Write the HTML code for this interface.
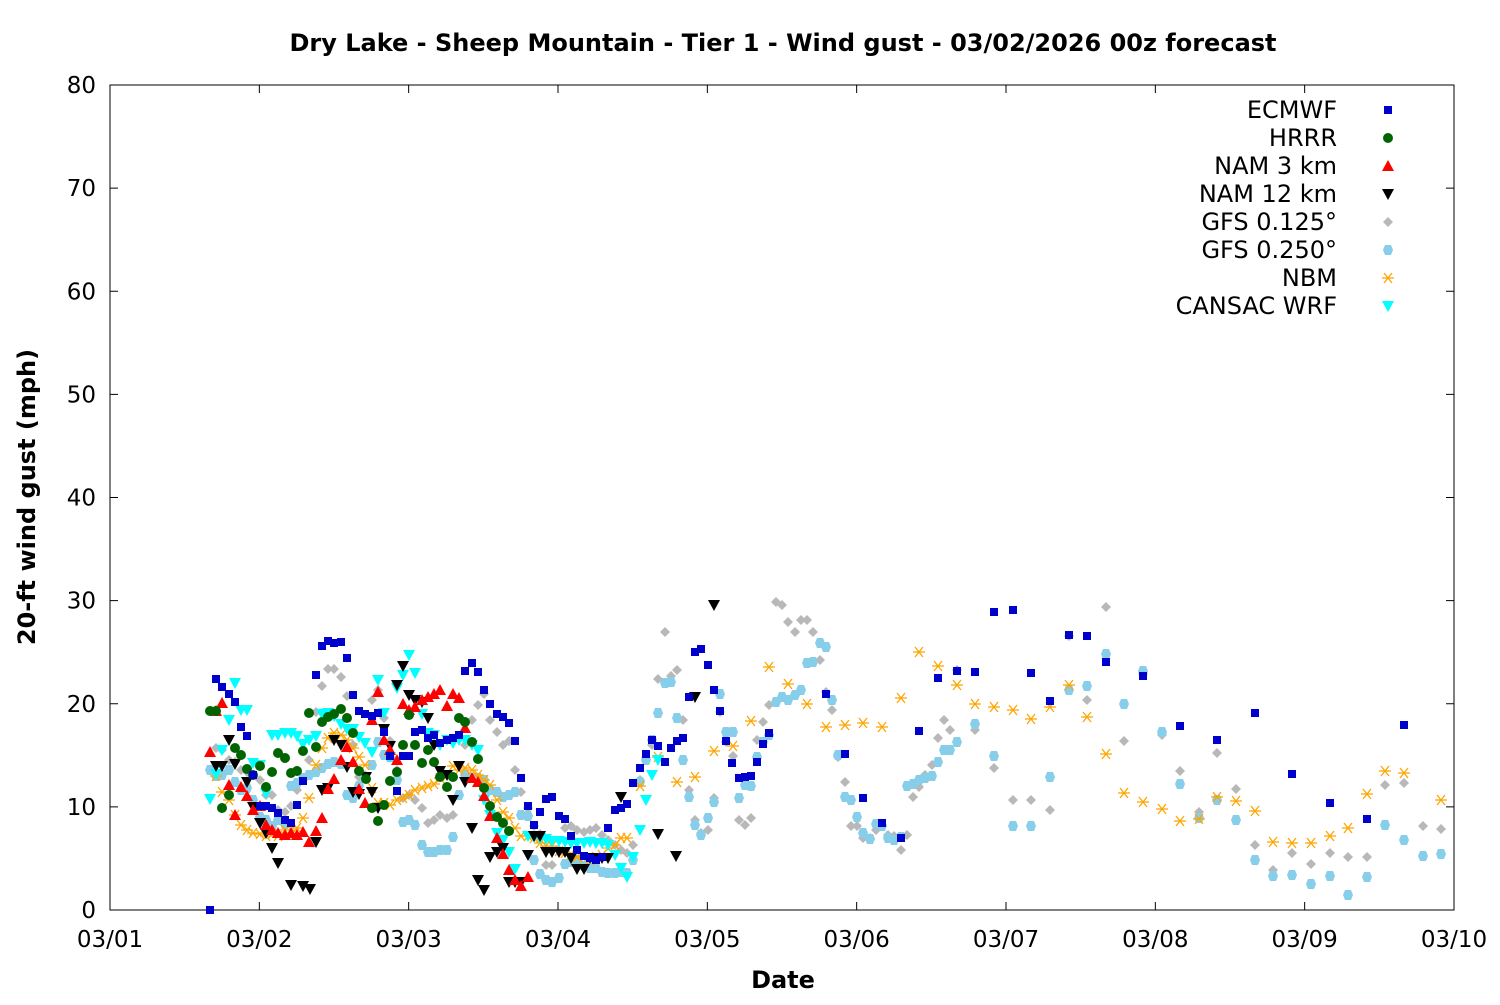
<!DOCTYPE html>
<html><head><meta charset="utf-8"><style>
body{margin:0;background:#fff}
svg text{font-family:"DejaVu Sans","Liberation Sans",sans-serif}
</style></head><body>
<svg id="s" width="1500" height="1000" xmlns="http://www.w3.org/2000/svg">
<rect width="1500" height="1000" fill="#fff"/>
<text x="783" y="51" text-anchor="middle" font-size="24" font-weight="bold">Dry Lake - Sheep Mountain - Tier 1 - Wind gust - 03/02/2026 00z forecast</text>
<rect x="110" y="85" width="1344" height="825" fill="none" stroke="#000" stroke-width="1"/>
<g id="ax" font-size="23"></g>
<text x="783" y="988" text-anchor="middle" font-size="24" font-weight="bold">Date</text>
<text transform="translate(35,497) rotate(-90)" text-anchor="middle" font-size="24" font-weight="bold">20-ft wind gust (mph)</text>
<g id="lg" font-size="24"></g>
<g id="pts"></g>
</svg>
<script>
const NS="http://www.w3.org/2000/svg";
function el(p,t,a,txt){const e=document.createElementNS(NS,t);for(const k in a)e.setAttribute(k,a[k]);if(txt!==undefined)e.textContent=txt;p.appendChild(e);return e;}
const ax=document.getElementById('ax');
for(let i=0;i<=8;i++){const y=910-i*103.125;
el(ax,'line',{x1:110,x2:118,y1:y,y2:y,stroke:'#000'});el(ax,'line',{x1:1446,x2:1454,y1:y,y2:y,stroke:'#000'});
el(ax,'text',{x:96,y:y+8,'text-anchor':'end'},String(i*10));}
const days=['03/01','03/02','03/03','03/04','03/05','03/06','03/07','03/08','03/09','03/10'];
for(let i=0;i<=9;i++){const x=110+i*149.333;
el(ax,'line',{x1:x,x2:x,y1:910,y2:902,stroke:'#000'});el(ax,'line',{x1:x,x2:x,y1:85,y2:93,stroke:'#000'});
el(ax,'text',{x:x,y:947,'text-anchor':'middle'},days[i]);}
function mk(g,type,c,x,y){
 if(type=='sq')el(g,'rect',{x:x-4,y:y-4,width:8,height:8,fill:c});
 else if(type=='ci')el(g,'circle',{cx:x,cy:y,r:5,fill:c});
 else if(type=='up')el(g,'polygon',{points:`${x},${y-6} ${x+6},${y+5} ${x-6},${y+5}`,fill:c});
 else if(type=='dn')el(g,'polygon',{points:`${x-6},${y-5} ${x+6},${y-5} ${x},${y+6}`,fill:c});
 else if(type=='di')el(g,'polygon',{points:`${x},${y-5} ${x+5},${y} ${x},${y+5} ${x-5},${y}`,fill:c});
 else if(type=='hx')el(g,'polygon',{points:`${x-3},${y-5} ${x+3},${y-5} ${x+5},${y} ${x+3},${y+5} ${x-3},${y+5} ${x-5},${y}`,fill:c});
 else if(type=='as'){el(g,'path',{d:`M${x-6} ${y}H${x+6}M${x-4} ${y-5}L${x+4} ${y+5}M${x-4} ${y+5}L${x+4} ${y-5}`,stroke:c,'stroke-width':1.3,fill:'none'});}
}
const S=[
['GFS 0.125°','di','#b8b8b8',[210,770,216,748,222,750,229,760,235,762,241,770,247,772,253,775,260,780,266,795,272,795,278,810,285,812,291,806,297,790,303,780,309,760,316,712,322,686,328,669,334,669,341,677,347,696,353,745,359,777,365,775,372,700,378,690,384,718,390,741,397,770,403,798,409,795,415,800,422,808,428,823,434,820,440,815,447,818,453,815,459,795,465,745,472,720,478,705,484,694,490,720,497,732,503,745,509,741,515,770,521,792,528,808,534,826,540,834,546,865,552,865,559,850,565,828,571,826,577,830,584,832,590,830,596,828,602,835,608,840,615,845,621,850,627,853,633,845,640,780,646,758,652,745,658,679,665,632,671,676,677,670,683,720,689,790,695,820,701,833,708,830,714,798,720,712,726,742,733,756,739,820,745,825,751,818,757,740,763,722,769,705,776,602,782,605,788,622,795,632,801,620,807,620,813,632,820,660,826,692,832,710,838,757,845,782,851,826,857,826,863,838,870,838,876,830,882,825,888,835,894,836,901,850,907,835,913,797,919,787,925,775,932,765,938,738,944,720,950,730,957,670,975,730,994,768,1013,800,1031,800,1050,810,1069,636,1087,700,1106,607,1124,741,1143,674,1162,735,1180,771,1199,812,1217,753,1236,789,1255,845,1273,870,1292,853,1311,864,1330,853,1348,857,1367,857,1385,785,1404,783,1423,826,1441,829]],
['GFS 0.250°','hx','#87ceeb',[210,770,216,776,222,775,229,770,235,782,241,790,247,788,253,800,260,817,266,820,272,826,278,820,285,824,291,786,297,783,303,778,309,775,316,772,322,768,328,764,334,762,341,764,347,795,353,798,359,786,365,777,372,765,378,742,384,755,390,757,397,780,403,822,409,820,415,825,422,845,428,852,434,852,440,850,447,850,453,837,459,795,465,775,472,778,478,778,484,780,490,790,497,792,503,797,509,795,515,792,521,815,528,816,534,860,540,874,546,880,552,882,559,878,565,864,571,862,577,860,584,866,590,868,596,868,602,872,608,873,615,873,621,872,627,873,633,860,640,782,646,760,652,740,658,713,665,683,671,682,677,718,683,760,689,797,695,825,701,835,708,818,714,802,720,694,726,732,733,732,739,798,745,785,751,786,757,757,763,742,769,735,776,702,782,697,788,700,795,695,801,690,807,663,813,662,820,643,826,647,832,700,838,755,845,797,851,800,857,817,863,833,870,839,876,824,882,826,888,838,894,840,901,837,907,786,913,784,919,780,925,778,932,776,938,762,944,750,950,750,957,742,975,724,994,756,1013,826,1031,826,1050,777,1069,690,1087,686,1106,654,1124,704,1143,671,1162,732,1180,784,1199,818,1217,800,1236,820,1255,860,1273,876,1292,875,1311,884,1330,876,1348,895,1367,877,1385,825,1404,840,1423,856,1441,854]],
['NBM','as','#ffa500',[216,776,222,792,229,800,235,815,241,825,247,830,253,833,260,834,266,836,272,834,278,836,285,830,291,830,297,828,303,818,309,798,316,765,322,748,328,738,334,733,341,735,347,740,353,748,359,757,365,765,372,788,378,803,384,803,390,805,397,800,403,798,409,795,415,790,422,788,428,786,434,784,440,778,447,775,453,766,459,770,465,768,472,770,478,775,484,780,490,785,497,800,503,812,509,818,515,828,521,836,528,836,534,838,540,843,546,846,552,846,559,851,565,853,571,854,577,857,584,858,590,860,596,857,602,855,608,848,615,845,621,838,627,838,640,786,658,757,677,782,695,777,714,751,733,746,751,721,769,667,788,684,807,704,826,727,845,725,863,723,882,727,901,698,919,652,938,666,957,685,975,704,994,707,1013,710,1031,719,1050,707,1069,685,1087,717,1106,754,1124,793,1143,802,1162,809,1180,821,1199,819,1217,797,1236,801,1255,811,1273,842,1292,843,1311,843,1330,836,1348,828,1367,794,1385,771,1404,773,1441,800]],
['CANSAC WRF','dn','#00ffff',[210,799,216,774,222,750,229,720,235,683,241,710,247,710,253,763,260,765,266,793,272,735,278,735,285,733,291,733,297,736,303,744,309,740,316,736,322,714,328,713,334,716,341,724,347,729,353,729,359,737,365,743,372,752,378,680,384,713,390,757,397,688,403,675,409,655,415,673,422,714,428,733,434,735,440,745,447,740,453,743,459,740,465,740,472,745,478,750,484,800,490,815,497,833,503,840,509,852,515,869,521,883,528,836,534,837,540,838,546,839,552,841,559,841,565,842,571,843,577,843,584,843,590,842,596,843,602,843,608,845,615,855,621,868,627,877,633,857,640,830,646,800,652,775,658,760]],
['NAM 12 km','dn','#000000',[216,766,222,766,229,740,235,764,247,782,253,807,260,823,266,833,272,848,278,863,291,885,303,886,310,889,316,842,322,790,328,788,334,740,341,745,347,767,353,792,359,794,366,777,372,792,378,808,384,729,390,746,397,685,403,666,409,695,415,700,422,702,428,718,434,745,440,771,447,775,453,800,459,766,465,782,472,828,478,880,484,890,490,857,497,852,503,848,509,882,515,882,521,882,528,855,534,836,540,836,546,852,552,852,559,852,565,852,571,858,577,869,584,869,590,858,596,858,602,858,608,858,621,797,658,834,676,856,695,697,714,605]],
['NAM 3 km','up','#ff0000',[210,752,216,711,222,703,229,785,235,815,241,787,247,796,253,810,260,806,266,825,272,830,278,833,285,835,291,833,297,835,303,832,309,842,316,831,322,818,328,789,334,779,341,760,347,747,353,762,359,789,365,803,372,720,378,692,384,740,390,750,397,760,403,704,409,710,415,707,422,700,428,697,434,694,440,690,447,706,453,694,459,698,465,728,472,778,478,782,484,796,490,816,497,838,503,854,509,870,515,880,521,886,528,877]],
['HRRR','ci','#006400',[210,711,216,711,222,808,229,795,235,748,241,755,247,769,253,775,260,766,266,787,272,772,278,753,285,758,291,773,297,771,303,751,309,713,316,747,322,722,328,717,334,714,341,709,347,718,353,733,359,771,366,779,372,808,378,821,384,805,390,781,397,772,403,745,409,715,415,745,422,763,428,750,434,762,440,777,447,787,453,777,459,718,465,722,472,742,478,759,484,788,490,806,497,817,503,823,509,831]],
['ECMWF','sq','#0000cc',[210,910,216,679,222,687,229,694,235,702,241,727,247,736,253,775,260,806,266,806,272,808,278,813,285,820,291,823,297,805,303,781,316,675,322,646,328,641,334,643,341,642,347,658,353,695,359,711,365,714,372,716,378,713,384,732,390,756,397,791,403,756,409,756,415,732,422,730,428,738,434,735,440,743,447,740,453,738,459,735,465,671,472,663,478,672,484,690,490,704,497,714,503,717,509,723,515,741,521,778,528,806,534,825,540,812,546,799,552,797,559,816,565,819,571,836,577,850,584,856,590,858,596,860,602,857,608,828,615,810,621,808,627,804,633,783,640,768,646,754,652,740,658,746,665,762,671,748,677,741,683,738,689,697,695,652,701,649,708,665,714,690,720,711,726,741,732,763,739,778,745,777,751,776,757,762,763,744,769,733,826,694,845,754,863,798,882,823,901,838,919,731,938,678,957,671,975,672,994,612,1013,610,1031,673,1050,701,1069,635,1087,636,1106,662,1143,676,1180,726,1217,740,1255,713,1292,774,1330,803,1367,819,1404,725]]
];
const pts=document.getElementById('pts');
for(const s of S){const a=s[3];for(let i=0;i<a.length;i+=2)mk(pts,s[1],s[2],a[i],a[i+1]);}
const order=['ECMWF','HRRR','NAM 3 km','NAM 12 km','GFS 0.125°','GFS 0.250°','NBM','CANSAC WRF'];
const lg=document.getElementById('lg');
order.forEach((n,i)=>{const s=S.find(q=>q[0]==n);const y=110+i*28;
el(lg,'text',{x:1337,y:y+8,'text-anchor':'end'},n);mk(lg,s[1],s[2],1388,y);});
</script>
</body></html>
